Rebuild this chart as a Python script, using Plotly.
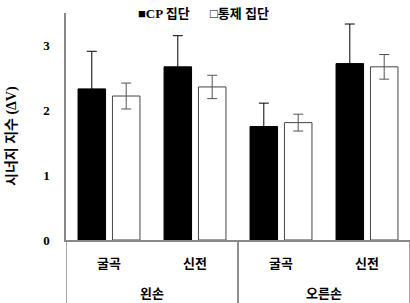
import plotly.graph_objects as go

hands = ["왼손", "왼손", "오른손", "오른손"]
motions = ["굴곡", "신전", "굴곡", "신전"]
cp_vals = [2.33, 2.67, 1.75, 2.72]
cp_err = [0.58, 0.48, 0.36, 0.61]
ctrl_vals = [2.22, 2.36, 1.81, 2.67]
ctrl_err = [0.20, 0.18, 0.13, 0.19]
series_names = ["CP 집단", "통제 집단"]
y_ticks = [0, 1, 2, 3]

serif_kr = "Liberation Serif, Noto Sans CJK KR"
sans_kr = "Noto Sans CJK KR"

cats = [f"{h}-{m}" for h, m in zip(hands, motions)]

fig = go.Figure()
fig.add_trace(go.Bar(
    x=cats, y=cp_vals, name=series_names[0],
    marker=dict(color="black", line=dict(color="black", width=1)),
    error_y=dict(type="data", array=cp_err, visible=True, color="black", thickness=1, width=5),
))
fig.add_trace(go.Bar(
    x=cats, y=ctrl_vals, name=series_names[1],
    marker=dict(color="white", line=dict(color="#444444", width=1)),
    error_y=dict(type="data", array=ctrl_err, visible=True, color="#555555", thickness=1, width=5),
))

fig.update_layout(
    width=410, height=303,
    margin=dict(l=66, r=0, t=13, b=63),
    paper_bgcolor="white", plot_bgcolor="white",
    barmode="group", bargap=0.2, bargroupgap=0.2,
    showlegend=False,
    font=dict(family=sans_kr, color="black"),
)
fig.update_yaxes(
    range=[0, 3.5], tickvals=y_ticks, showgrid=False, zeroline=False,
    showline=True, linecolor="#888888", linewidth=1.5,
    ticks="", ticklabelstandoff=12,
    tickfont=dict(family="Liberation Serif", size=13, color="black", weight="bold"),
)
fig.update_xaxes(
    type="category", range=[-0.5, len(cats) - 0.5],
    tickvals=cats, ticktext=motions, showgrid=False,
    showline=True, linecolor="#888888", linewidth=1.5,
    ticks="", ticklabelstandoff=11,
    tickfont=dict(family=sans_kr, size=13, color="black", weight="bold"),
)

# group labels and dividers for the hand level
groups = []
for i, h in enumerate(hands):
    if not groups or groups[-1][0] != h:
        groups.append([h, i, i])
    else:
        groups[-1][2] = i
for h, i0, i1 in groups:
    fig.add_annotation(
        text=f"<b>{h}</b>", x=(i0 + i1) / 2, y=(240 - 292) / 227,
        xref="x", yref="paper", showarrow=False, yanchor="middle",
        font=dict(family=sans_kr, size=13),
    )
    for xb in (i0 - 0.5, i1 + 0.5):
        fig.add_shape(
            type="line", xref="x", yref="paper", x0=xb, x1=xb, y0=0, y1=-0.3,
            line=dict(color="#888888", width=1.5),
        )

fig.add_annotation(
    text="<b>시너지 지수 (ΔV)</b>", x=(12 - 66) / 344, y=(240 - 136) / 227,
    xref="paper", yref="paper", textangle=-90, showarrow=False,
    xanchor="center", yanchor="middle", font=dict(family=serif_kr, size=14),
)
fig.add_annotation(
    text="<b>■CP 집단</b>", x=(136 - 66) / 344, y=1.0, xref="paper", yref="paper",
    xanchor="left", yanchor="middle", showarrow=False, font=dict(family=serif_kr, size=13),
)
fig.add_annotation(
    text="<b>□통제 집단</b>", x=(208 - 66) / 344, y=1.0, xref="paper", yref="paper",
    xanchor="left", yanchor="middle", showarrow=False, font=dict(family=serif_kr, size=13),
)

fig.write_html("out.html")
